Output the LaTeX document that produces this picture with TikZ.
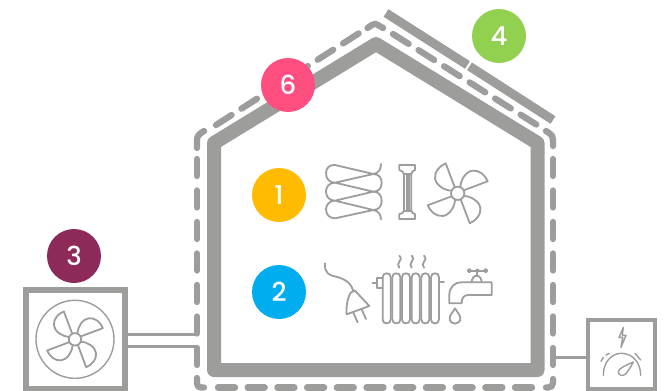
\documentclass[tikz,border=0pt]{standalone}
\usepackage{fontspec}
\setmainfont{Poppins}[UprightFont=* Medium]
\definecolor{wallgray}{HTML}{9D9D9C}
\definecolor{cyellow}{HTML}{FFBB00}
\definecolor{cblue}{HTML}{00AEEF}
\definecolor{cmaroon}{HTML}{8E2A5A}
\definecolor{cgreen}{HTML}{92D050}
\definecolor{cpink}{HTML}{FF4F81}
\tikzset{
  wall/.style={draw=wallgray,line width=14pt,line join=round},
  dashwall/.style={draw=wallgray,line width=6.3pt,line cap=round,dash pattern=on 17pt off 12.7pt},
  dashvert/.style={draw=wallgray,line width=6.3pt,line cap=round,dash pattern=on 17pt off 14.5pt},
  dashroof/.style={draw=wallgray,line width=6.3pt,line cap=round,dash pattern=on 18.5pt off 11.7pt},
  dashcorner/.style={draw=wallgray,line width=6.3pt,line cap=round,line join=round},
  solarbar/.style={draw=wallgray,line width=9pt},
  boxline/.style={draw=wallgray,line width=6pt},
  link/.style={draw=wallgray,line width=3pt},
  icon/.style={draw=wallgray,line width=1.8pt,line join=round,line cap=round},
  thinicon/.style={draw=wallgray,line width=1.4pt,line join=round,line cap=round},
  badge/.style={circle,minimum size=54pt,inner sep=0pt,text=white,font=\fontsize{26}{26}\selectfont}
}
\newcommand{\fanicon}[3]{%
  \begin{scope}[shift={(#1,#2)},scale=#3]
    \foreach \a in {0,-90,-180,-270}{
      \draw[icon,rotate=\a] (-9,-18) -- (-36,-90) .. controls (-55,-82) and (-70,-65) .. (-68,-45) .. controls (-66,-25) and (-40,-8) .. (-18,-8);
    }
    \draw[icon,fill=white] (0,0) circle (20);
  \end{scope}}
\begin{document}
\begin{tikzpicture}[x=1pt,y=-1pt]
\useasboundingbox (0,0) rectangle (667,391);
\fill[white] (0,0) rectangle (667,391);
% house
\draw[wall] (214,370) -- (214,143) -- (376,44) -- (537.5,143) -- (537.5,370) -- cycle;
% dashed envelope
\draw[dashcorner] (197,148) -- (197,140) .. controls (197,136) and (199,134) .. (204,131);
\draw[dashroof] (216,125) -- (364,30);
\draw[dashcorner] (367.5,28) -- (372,25) .. controls (374.5,23.5) and (376,23.5) .. (378,25) -- (383,28);
\draw[dashroof] (393,34) -- (537,125);
\draw[dashcorner] (546,131) -- (549,133) .. controls (552,135) and (553,137) .. (553,140) -- (553,146);
\draw[dashvert] (553,365) -- (553,158);
\draw[dashcorner] (553,379) -- (553,383) .. controls (553,386) and (551,387.5) .. (548,387.5) -- (546,387.5);
\draw[dashwall] (218,387.5) -- (535,387.5);
\draw[dashcorner] (204,387.5) -- (201,387.5) .. controls (198,387.5) and (197,386) .. (197,383) -- (197,378);
\draw[dashvert] (197,365) -- (197,158);
% solar bar
\coordinate (s1) at (386,13);
\coordinate (s2) at (467.5,65);
\coordinate (s3) at (469.5,66.3);
\coordinate (s4) at (553,120);
\draw[solarbar] (s1) -- (s2);
\draw[solarbar] (s3) -- (s4);
% outdoor unit
\node[boxline,minimum width=99pt,minimum height=99pt,inner sep=0pt,fill=white] (unit) at (75.5,339.5) {};
\draw[thinicon,line width=1.4pt] (75,339.3) circle (39);
\fanicon{75}{339.3}{0.31}
\coordinate (h1) at (197,334.5);
\coordinate (h2) at (197,346.5);
\draw[link] (unit.east |- h1) -- (h1);
\draw[link] (unit.east |- h2) -- (h2);
% meter
\node[draw=wallgray,line width=4pt,minimum width=67pt,minimum height=69.5pt,inner sep=0pt,fill=white] (meter) at (621.5,354.25) {};
\coordinate (m1) at (553,357);
\draw[link] (m1) -- (meter.west |- m1);
\begin{scope}[shift={(520,300)},scale=1/3]
  \draw[thinicon] (310,82) -- (297,112) -- (308,112) -- (303,142) -- (318,106) -- (307,106) -- cycle;
  \draw[thinicon] (250,226) .. controls (250,185) and (275,160) .. (305,160) .. controls (335,160) and (362,185) .. (362,226);
  \draw[thinicon] (243,184) -- (250,172);
  \draw[thinicon] (258,165) -- (268,160);
  \draw[thinicon] (345,160) -- (362,180);
  \draw[thinicon] (340,186) .. controls (320,195) and (298,203) .. (295,215) .. controls (293,226) and (310,230) .. (317,222) .. controls (325,212) and (333,200) .. (340,186) -- cycle;
\end{scope}
% coil and column
\begin{scope}[shift={(310,140)},scale=1/3]
  \draw[icon] (213,72) .. controls (213,88) and (205,100) .. (190,102) -- (75,75) .. controls (58,73) and (48,85) .. (48,100) .. controls (48,118) and (60,128) .. (75,128) -- (190,102) .. controls (208,102) and (215,115) .. (215,128) .. controls (215,145) and (205,155) .. (190,155) -- (75,128) .. controls (58,128) and (48,140) .. (48,155) .. controls (48,172) and (60,182) .. (75,182) -- (190,155) .. controls (208,155) and (215,168) .. (215,182) .. controls (215,200) and (205,210) .. (190,210) -- (75,182) .. controls (58,182) and (48,195) .. (48,208) .. controls (48,225) and (60,235) .. (75,235) -- (190,210) .. controls (205,212) and (213,225) .. (213,238);
  \draw[icon] (268,75) -- (315,75) -- (315,90) .. controls (308,92) and (305,96) .. (304,102) -- (304,212) .. controls (305,218) and (310,222) .. (315,222) -- (315,237) -- (268,237) -- (268,222) .. controls (275,222) and (281,218) .. (282,212) -- (282,102) .. controls (281,96) and (275,92) .. (268,90) -- cycle;
  \draw[icon] (291,102) -- (291,212) (296,102) -- (296,212);
  \draw[icon] (282,102) -- (304,102) (282,212) -- (304,212);
\end{scope}
\fanicon{457.7}{193.3}{0.3333}
% plug, radiator, tap
\begin{scope}[shift={(310,245)},scale=1/3]
  \draw[icon] (45,55) .. controls (42,85) and (60,92) .. (78,95) .. controls (105,102) and (125,115) .. (130,140);
  \draw[icon] (122,143) -- (134,136) -- (178,183) -- (110,208) .. controls (108,185) and (112,160) .. (122,143);
  \draw[icon] (130,203) -- (143,232) (155,193) -- (168,222);
  \foreach \x in {218,247,276,305,334,363}{
    \draw[icon] (\x,97) .. controls (\x,88) and (\x+5,85) .. (\x+12,85) .. controls (\x+19,85) and (\x+24,88) .. (\x+24,97) -- (\x+24,223) .. controls (\x+24,232) and (\x+19,235) .. (\x+12,235) .. controls (\x+5,235) and (\x,232) .. (\x,223) -- cycle;
  }
  \draw[icon] (218,100) -- (202,100) -- (202,130) -- (218,130) (202,115) -- (188,115);
  \draw[icon] (387,110) -- (402,110);
  \foreach \x in {268,305,342}{
    \draw[icon] (\x,32) .. controls (\x+6,40) and (\x+6,44) .. (\x,50) .. controls (\x-6,56) and (\x-4,62) .. (\x,68);
  }
  \draw[icon] (545,112) -- (545,150) -- (475,150) .. controls (462,150) and (455,158) .. (455,175) -- (418,175) -- (418,150) .. controls (418,128) and (432,112) .. (455,112) -- cycle;
  \draw[icon] (485,112) .. controls (485,100) and (492,92) .. (500,92) .. controls (508,92) and (515,100) .. (515,112);
  \draw[icon] (500,92) -- (500,77) (483,77) -- (522,77);
  \draw[icon,fill=white] (478,77) circle (5) (527,77) circle (5) (502,77) circle (4);
  \draw[icon] (435,190) .. controls (428,203) and (419,210) .. (419,220) .. controls (419,230) and (427,236) .. (435,236) .. controls (443,236) and (451,230) .. (451,220) .. controls (451,210) and (442,203) .. (435,190) -- cycle;
\end{scope}
% badges
\node[badge,fill=cyellow] (b1) at (279,195) {1};
\node[badge,fill=cblue] (b2) at (279,292) {2};
\node[badge,fill=cmaroon] (b3) at (74,256) {3};
\node[badge,fill=cgreen] (b4) at (499,36) {4};
\node[badge,fill=cpink] (b6) at (288,85) {6};
\end{tikzpicture}
\end{document}
